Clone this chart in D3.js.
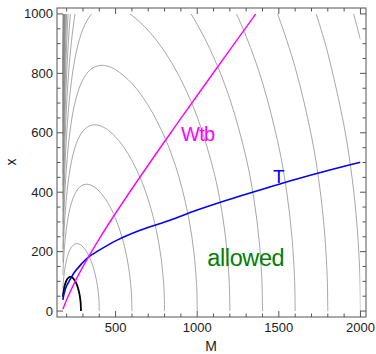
<!DOCTYPE html>
<html>
<head>
<meta charset="utf-8">
<script src="https://cdn.jsdelivr.net/npm/d3@7"></script>
<style>
body { margin: 0; background: #fff; }
svg text { font-family: "Liberation Sans", Arial, sans-serif; }
</style>
</head>
<body>
<div id="chart"></div>
<script>
// ---- data (M, x) ----
var xTicks = [500, 1000, 1500, 2000];
var yTicks = [0, 200, 400, 600, 800, 1000];

// gray contour lines (one array per drawn piece)
var c400 = [[177,75.8],[180,98.7],[185,125.6],[190,145.5],[200,173.8],[210,193.0],[220,206.4],[240,221.8],[260,226.9],[280,224.6],[300,216.2],[330,192.5],[360,152.9],[380,111.2],[390,79.7],[395,56.7],[398,36.1],[400,0]];
var c600 = [[177,121.2],[180,158.1],[185,202.2],[190,235.3],[200,283.8],[210,318.6],[220,344.8],[240,381.1],[260,403.7],[280,417.3],[300,424.5],[330,426.7],[360,420.9],[400,403.2],[450,366.4],[500,311.2],[550,227.6],[580,146.6],[595,74.0],[598,46.9],[600,0]];
var c800 = [[177,164.9],[180,215.3],[185,275.7],[190,321.3],[200,388.7],[210,437.6],[220,475.2],[240,529.0],[260,564.8],[280,589.2],[300,605.9],[330,620.6],[360,626.5],[400,624.7],[450,610.6],[500,585.9],[550,551.5],[600,506.7],[650,449.5],[700,375.3],[750,270.9],[780,173.3],[795,87.2],[798,55.2],[800,0]];
var c1000 = [[177,208.1],[180,271.7],[185,348.2],[190,405.9],[200,491.6],[210,554.2],[220,602.6],[240,672.8],[260,720.8],[280,754.8],[300,779.4],[330,803.9],[360,818.2],[400,826.4],[450,824.4],[500,812.5],[600,766.0],[700,692.0],[800,585.8],[850,515.8],[900,427.8],[950,307.0],[980,195.9],[995,98.4],[998,62.3],[1000,0]];
var c1200 = [[177,250.9],[180,327.7],[185,420.1],[190,489.9],[200,593.7],[210,669.7],[220,728.7],[240,814.9],[260,874.5],[280,917.5],[300,949.2],[330,982.5],[360,1003.9],[400,1020.1],[450,1026.9],[500,1023.5],[550,1012.4],[600,995.1],[700,944.4],[800,873.3],[900,778.9],[1000,653.3],[1100,473.6],[1150,338.9],[1180,215.8],[1195,108.3],[1198,68.6],[1200,0]];
var c1400 = [[177,293.6],[180,383.4],[185,491.7],[190,573.5],[200,695.3],[210,784.6],[220,854.1],[240,956.0],[260,1026.9],[300,1117.2],[400,1209.7],[500,1226.9],[600,1211.2],[700,1174.8],[800,1121.7],[900,1052.4],[1000,965.0],[1100,855.3],[1200,713.6],[1300,515.0],[1350,367.8],[1380,233.9],[1395,117.3],[1398,74.3],[1400,0]];
var c1600L = [[177,336.2],[180,439.1],[185,563.1],[190,656.8],[200,796.5],[210,899.1],[220,979.0],[230,1043.4]];
var c1600R = [[1100,1147.4],[1200,1047.3],[1300,924.4],[1400,768.7],[1500,553.1],[1550,394.4],[1580,250.7],[1595,125.7],[1598,79.5],[1600,0]];
var c1800L = [[177,378.7],[180,494.6],[185,634.3],[190,740.1],[200,897.6],[210,1013.4],[215,1061.1]];
var c1800R = [[1400,1122.7],[1450,1058.9],[1500,988.4],[1600,819.8],[1700,588.5],[1750,419.3],[1780,266.3],[1795,133.4],[1798,84.5],[1800,0]];
var c2000L = [[177,421.1],[180,550.1],[185,705.5],[190,823.2],[200,998.5],[205,1067.3]];
var c2000R = [[1650,1124.0],[1700,1048.1],[1750,963.5],[1800,867.7],[1900,621.9],[1950,442.7],[1980,281.1],[1995,140.8],[1998,89.1],[2000,0]];
var c2200L = [[177,463.6],[180,605.5],[185,776.7],[190,906.2],[200,1099.3]];
var c2200R = [[1900,1104.4],[1950,1014.6],[1975,965.5],[2000,913.1]];
var c2400 = [[177,506.0],[180,660.9],[185,847.8],[190,989.2],[195,1103.7]];
var c2600 = [[177,548.4],[180,716.3],[185,918.8],[190,1072.1]];
var c2800 = [[177,590.7],[180,771.7],[185,989.8],[190,1155.0]];
var c3000 = [[177,633.1],[180,827.0],[185,1060.8]];
var c3200 = [[177,675.4],[180,882.3],[185,1131.8]];
var c3400 = [[177,717.8],[180,937.7],[185,1202.8]];
var c3600 = [[177,760.1],[180,993.0],[185,1273.7]];
var c3800 = [[177,802.4],[180,1048.3]];
var c4000 = [[177,844.8],[180,1103.6]];

var grayLines = [c400, c600, c800, c1000, c1200, c1400, c1600L, c1600R, c1800L, c1800R,
                 c2000L, c2000R, c2200L, c2200R, c2400, c2600, c2800, c3000, c3200, c3400,
                 c3600, c3800, c4000];

// black contour
var blackLine = [[177,48.0],[180,62.1],[185,78.2],[190,89.5],[200,104.0],[210,111.7],[220,114.8],[230,114.2],[240,110.3],[250,103.2],[260,92.5],[270,76.9],[280,53.0],[285,33.0],[286,27.1],[288,0]];

// T bound (blue)
var tLine = [[177,38],[185,60],[200,85],[220,105],[250,132],[290,158],[330,180],[400,205],[506,238],[650,272],[833,306],[1000,340],[1180,373],[1400,410],[1600,443],[1812,475],[2000,501]];

// Wtb bound (magenta)
var wtbLine = [[177,5.9],[190,24.3],[210,50.5],[250,97.5],[300,149.8],[400,243.2],[500,329.2],[700,491.6],[850,609.5],[1000,725.6],[1200,879.0],[1359,1000]];

// ---- drawing ----
var width = 376, height = 354;

var svg = d3.select("#chart").append("svg")
	.attr("width", width)
	.attr("height", height);

var x = d3.scaleLinear().domain([141, 2034]).range([57, 366]);
var y = d3.scaleLinear().domain([-20, 1020]).range([317, 8]);

svg.append("clipPath").attr("id", "clip")
	.append("rect")
	.attr("x", x(141)).attr("y", y(1000))
	.attr("width", x(2000) - x(141))
	.attr("height", y(-3) - y(1000));

var line = d3.line()
	.x(function(d){ return x(d[0]); })
	.y(function(d){ return y(d[1]); })
	.curve(d3.curveCatmullRom.alpha(0.5));

var plot = svg.append("g").attr("clip-path", "url(#clip)");

plot.selectAll(".gray")
	.data(grayLines)
	.enter().append("path")
	.attr("class", "gray")
	.attr("d", line)
	.attr("fill", "none")
	.attr("stroke", "#8a8a8a")
	.attr("stroke-width", 0.75);

plot.append("path").datum(blackLine).attr("d", line)
	.attr("fill", "none").attr("stroke", "#000").attr("stroke-width", 1.8);

plot.append("path").datum(tLine).attr("d", line)
	.attr("fill", "none").attr("stroke", "#0000ff").attr("stroke-width", 1.6);

plot.append("path").datum(wtbLine).attr("d", line)
	.attr("fill", "none").attr("stroke", "#ff00ff").attr("stroke-width", 1.4);

// labels inside the plot
svg.append("text").attr("x", x(900)).attr("y", y(573))
	.attr("fill", "#ff00ff").style("font-size", "20px").style("letter-spacing", "-0.6px")
	.text("Wtb");
svg.append("text").attr("x", x(1465)).attr("y", y(432))
	.attr("fill", "#0000ff").style("font-size", "19px")
	.text("T");
svg.append("text").attr("x", x(1062)).attr("y", y(150))
	.attr("fill", "#008000").style("font-size", "23.5px").style("letter-spacing", "-0.4px")
	.text("allowed");

// frame and ticks (all four sides, pointing inward)
var frame = svg.append("g").attr("stroke", "#555").attr("stroke-width", 1);

frame.append("rect")
	.attr("x", 57).attr("y", 8)
	.attr("width", 309).attr("height", 309)
	.attr("fill", "none");

var xMinor = d3.range(200, 2001, 100);
var yMinor = d3.range(0, 1001, 50);

xMinor.forEach(function(v){
	var len = (v % 500 === 0) ? 6 : 3.5;
	frame.append("line").attr("x1", x(v)).attr("x2", x(v)).attr("y1", 317).attr("y2", 317 - len);
	frame.append("line").attr("x1", x(v)).attr("x2", x(v)).attr("y1", 8).attr("y2", 8 + len);
});
yMinor.forEach(function(v){
	var len = (v % 200 === 0) ? 6 : 3.5;
	frame.append("line").attr("x1", 57).attr("x2", 57 + len).attr("y1", y(v)).attr("y2", y(v));
	frame.append("line").attr("x1", 366).attr("x2", 366 - len).attr("y1", y(v)).attr("y2", y(v));
});

svg.selectAll(".xlab")
	.data(xTicks)
	.enter().append("text")
	.attr("class", "xlab")
	.attr("x", function(d){ return x(d); })
	.attr("y", 332)
	.attr("text-anchor", "middle")
	.attr("fill", "#222")
	.style("font-size", "13px")
	.text(function(d){ return d; });

svg.selectAll(".ylab")
	.data(yTicks)
	.enter().append("text")
	.attr("class", "ylab")
	.attr("x", 53)
	.attr("y", function(d){ return y(d) + 4.5; })
	.attr("text-anchor", "end")
	.attr("fill", "#222")
	.style("font-size", "13px")
	.text(function(d){ return d; });

// axis titles
svg.append("text").attr("x", 211).attr("y", 351)
	.attr("text-anchor", "middle").attr("fill", "#222").style("font-size", "14px")
	.text("M");
svg.append("text")
	.attr("transform", "translate(16,162) rotate(-90)")
	.attr("text-anchor", "middle").attr("fill", "#222").style("font-size", "14px")
	.text("x");
</script>
</body>
</html>
